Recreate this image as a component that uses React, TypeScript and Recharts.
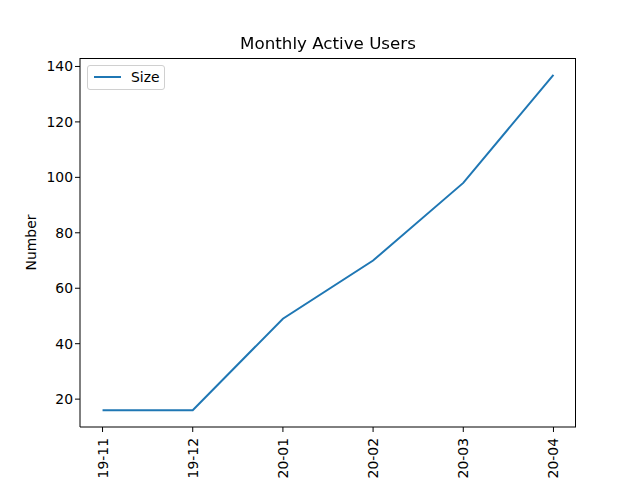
import React from "react";
import { LineChart, Line, XAxis, YAxis } from "recharts";

const months = ["19-11", "19-12", "20-01", "20-02", "20-03", "20-04"];
const sizeValues = [16, 16, 49, 70, 98, 137];
const yTicks = [20, 40, 60, 80, 100, 120, 140];

const data = months.map((m, i) => ({ idx: i, label: m, size: sizeValues[i] }));
const xTicks = months.map((_, i) => i);

const FONT = "DejaVu Sans, sans-serif";
const TICK_SIZE = 13.9;

const RotTick = (props: any) => {
  const { x, y, payload } = props;
  const cx = x;
  const cy = y + 4;
  return (
    <text
      x={cx}
      y={cy}
      transform={`rotate(-90, ${cx}, ${cy})`}
      textAnchor="end"
      dominantBaseline="central"
      fontFamily={FONT}
      fontSize={TICK_SIZE}
      fill="#000"
    >
      {months[payload.value]}
    </text>
  );
};

export default function App() {
  return (
    <div style={{ position: "fixed", left: 0, top: 0, width: 640, height: 480, background: "#fff" }}>
      <LineChart
        width={640}
        height={480}
        data={data}
        margin={{ top: 58, right: 64, bottom: 0, left: 20 }}
      >
        <XAxis
          dataKey="idx"
          type="number"
          domain={[-0.25, 5.25]}
          ticks={xTicks}
          interval={0}
          allowDataOverflow
          height={53}
          tick={<RotTick />}
          tickLine={{ stroke: "#000" }}
          tickSize={5}
          axisLine={{ stroke: "#000" }}
        />
        <YAxis
          type="number"
          domain={[9.95, 143.05]}
          ticks={yTicks}
          interval={0}
          allowDataOverflow
          width={60}
          tickSize={5}
          tickLine={{ stroke: "#000" }}
          axisLine={{ stroke: "#000" }}
          tick={{ fill: "#000", fontSize: TICK_SIZE, fontFamily: FONT }}
          label={{
            value: "Number",
            angle: -90,
            position: "insideLeft",
            offset: 11,
            style: { fill: "#000", fontSize: TICK_SIZE, fontFamily: FONT, textAnchor: "middle" },
          }}
        />
        <Line
          dataKey="size"
          type="linear"
          stroke="#1f77b4"
          strokeWidth={2}
          dot={false}
          isAnimationActive={false}
        />
      </LineChart>
      <div
        style={{
          position: "absolute",
          left: 80,
          top: 58,
          width: 496,
          height: 369,
          borderTop: "1px solid #000",
          borderRight: "1px solid #000",
          boxSizing: "border-box",
          pointerEvents: "none",
        }}
      />
      <div
        style={{
          position: "absolute",
          left: 0,
          width: 656,
          top: 33,
          textAlign: "center",
          fontFamily: FONT,
          fontSize: 16.7,
          lineHeight: "20px",
          color: "#000",
        }}
      >
        Monthly Active Users
      </div>
      <div
        style={{
          position: "absolute",
          left: 87,
          top: 65,
          width: 78,
          height: 25,
          border: "1px solid #d0d0d0",
          borderRadius: 3,
          boxSizing: "border-box",
          background: "rgba(255,255,255,0.8)",
        }}
      >
        <div style={{ position: "absolute", left: 6, top: 10, width: 27, height: 2, background: "#1f77b4" }} />
        <div
          style={{
            position: "absolute",
            left: 43,
            top: 2,
            fontFamily: FONT,
            fontSize: TICK_SIZE,
            lineHeight: "18px",
            color: "#000",
          }}
        >
          Size
        </div>
      </div>
    </div>
  );
}
